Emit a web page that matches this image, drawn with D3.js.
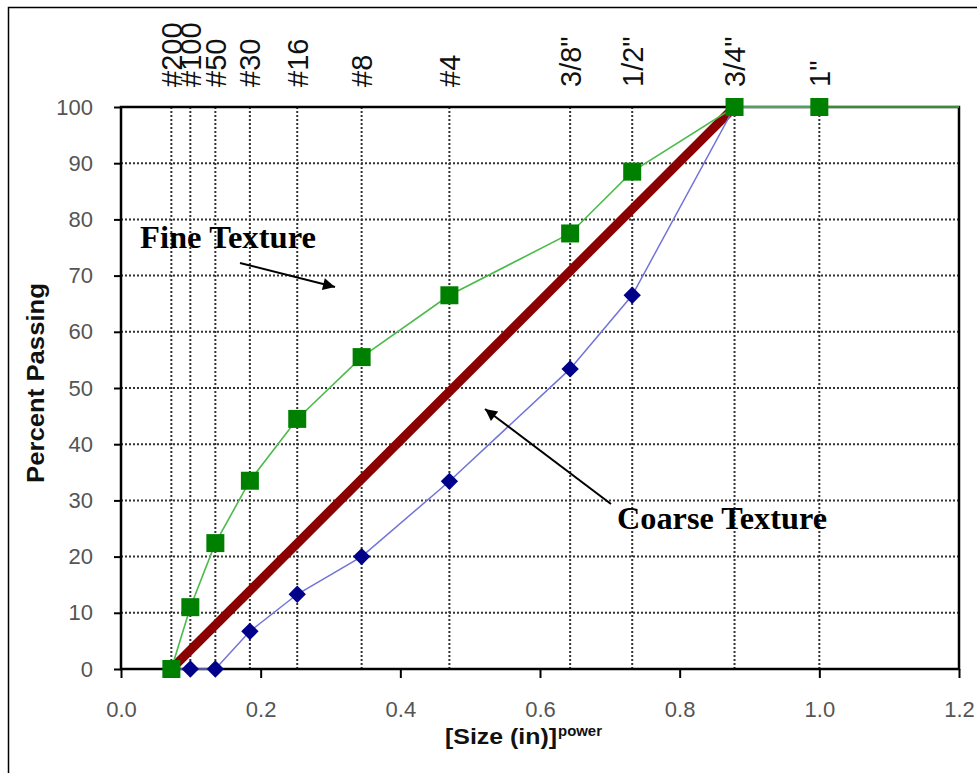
<!DOCTYPE html>
<html><head><meta charset="utf-8">
<script src="https://cdn.jsdelivr.net/npm/d3@7"></script>
<style>
html,body{margin:0;padding:0;background:#fff;}
svg{display:block;}
</style></head>
<body>
<svg id="chart" width="977" height="773"></svg>
<script>
// ---- data ----
const power = 0.45;
const sieveLabels = ["#200", "#100", "#50", "#30", "#16", "#8", "#4", "3/8\"", "1/2\"", "3/4\"", "1\""];
// sieve openings in inches (last one, 1-1/2", lies on the right edge)
const sieveSizes = [0.0029, 0.0059, 0.0117, 0.0234, 0.0469, 0.0937, 0.187, 0.375, 0.5, 0.75, 1.0, 1.5];
const finePassing   = [0, 11, 22.4, 33.5, 44.5, 55.5, 66.5, 77.5, 88.5, 100, 100, 100];
const coarsePassing = [0, 0, 0, 6.7, 13.3, 20, 33.4, 53.4, 66.5, 100, 100];
const maxDensitySizes = [0.0029, 0.75];
const maxDensityPassing = [0, 100];
const xTicks = [0, 0.2, 0.4, 0.6, 0.8, 1.0, 1.2];
const yTicks = [0, 10, 20, 30, 40, 50, 60, 70, 80, 90, 100];

// ---- layout ----
const svg = d3.select("#chart");
const x = d3.scaleLinear().domain([0, 1.2]).range([121, 959]);
const y = d3.scaleLinear().domain([0, 100]).range([669, 107]);
const px = s => x(Math.pow(s, power));
const sans = "Liberation Sans, Arial, sans-serif";
const serif = "Liberation Serif, Times New Roman, serif";

// outer frame
svg.append("rect").attr("x", 8.5).attr("y", 7.5).attr("width", 1000).attr("height", 1000)
  .attr("fill", "#fff").attr("stroke", "#000").attr("stroke-width", 1.5);

const defs = svg.append("defs");
defs.append("clipPath").attr("id", "plotclip")
  .append("rect").attr("x", x(0)).attr("y", y(100) - 12).attr("width", x(1.2) - x(0)).attr("height", y(0) - y(100) + 24);

// grid
const grid = svg.append("g");
grid.selectAll("line.v").data(sieveSizes.filter(s => Math.pow(s, power) < 1.2)).join("line")
  .attr("x1", d => px(d)).attr("x2", d => px(d)).attr("y1", y(0)).attr("y2", y(100))
  .attr("stroke", "#333").attr("stroke-width", 2).attr("stroke-dasharray", "2,2");
grid.selectAll("line.h").data(yTicks.filter(t => t > 0 && t < 100)).join("line")
  .attr("x1", x(0)).attr("x2", x(1.2)).attr("y1", d => y(d)).attr("y2", d => y(d))
  .attr("stroke", "#333").attr("stroke-width", 2).attr("stroke-dasharray", "2,2");

// axes
const xAxis = svg.append("g").attr("transform", `translate(0,${y(0)})`)
  .call(d3.axisBottom(x).tickValues(xTicks).tickFormat(d3.format(".1f")).tickSize(9).tickPadding(23));
const yAxis = svg.append("g").attr("transform", `translate(${x(0)},0)`)
  .call(d3.axisLeft(y).tickValues(yTicks).tickSize(7).tickPadding(21));
[xAxis, yAxis].forEach(a => {
  a.select(".domain").remove();
  a.selectAll(".tick line").attr("stroke", "#000").attr("stroke-width", 2);
  a.selectAll(".tick text").attr("fill", "#555").attr("font-family", sans).attr("font-size", 22);
});

// plot border
svg.append("rect").attr("x", x(0)).attr("y", y(100)).attr("width", x(1.2) - x(0)).attr("height", y(0) - y(100))
  .attr("fill", "none").attr("stroke", "#000").attr("stroke-width", 2.5);

// series
const plot = svg.append("g").attr("clip-path", "url(#plotclip)");
const line = d3.line().x(d => px(d[0])).y(d => y(d[1]));

plot.append("path").datum(maxDensitySizes.map((s, i) => [s, maxDensityPassing[i]]))
  .attr("d", line).attr("fill", "none").attr("stroke", "#8b0000").attr("stroke-width", 9);

const coarse = coarsePassing.map((v, i) => [sieveSizes[i], v]);
plot.append("path").datum(coarse).attr("d", line).attr("fill", "none")
  .attr("stroke", "#7373d9").attr("stroke-width", 1.5);
plot.selectAll("path.dia").data(coarse.filter(d => Math.pow(d[0], power) < 1.2)).join("path")
  .attr("d", d3.symbol(d3.symbolSquare, 150))
  .attr("transform", d => `translate(${px(d[0])},${y(d[1])}) rotate(45)`)
  .attr("fill", "#00008b");

const fine = finePassing.map((v, i) => [sieveSizes[i], v]);
plot.append("path").datum(fine).attr("d", line).attr("fill", "none")
  .attr("stroke", "#4cbb4c").attr("stroke-width", 1.6);
plot.selectAll("rect.sq").data(fine.filter(d => Math.pow(d[0], power) < 1.2)).join("rect")
  .attr("x", d => px(d[0]) - 9).attr("y", d => y(d[1]) - 9)
  .attr("width", 18).attr("height", 18).attr("fill", "#008000");

// top sieve labels
svg.append("g").selectAll("text").data(sieveLabels).join("text")
  .attr("transform", (d, i) => `translate(${px(sieveSizes[i])},87) rotate(-90)`)
  .attr("dy", "0.36em")
  .attr("font-family", sans).attr("font-size", 29)
  .attr("fill", "#111").text(d => d);

// axis titles
svg.append("text").attr("transform", "translate(44,383) rotate(-90)").attr("text-anchor", "middle")
  .attr("font-family", sans).attr("font-size", 23).attr("font-weight", "bold")
  .attr("textLength", 200).attr("lengthAdjust", "spacingAndGlyphs")
  .attr("fill", "#111").text("Percent Passing");
svg.append("text").attr("x", 445).attr("y", 744)
  .attr("font-family", sans).attr("font-weight", "bold").attr("fill", "#111")
  .attr("font-size", 22).attr("textLength", 112).attr("lengthAdjust", "spacingAndGlyphs").text("[Size (in)]");
svg.append("text").attr("x", 558).attr("y", 736)
  .attr("font-family", sans).attr("font-weight", "bold").attr("fill", "#111")
  .attr("font-size", 14).attr("textLength", 44).attr("lengthAdjust", "spacingAndGlyphs").text("power");

// annotations
defs.append("marker").attr("id", "arrow").attr("viewBox", "0 0 10 10").attr("refX", 10).attr("refY", 5)
  .attr("markerWidth", 7).attr("markerHeight", 6).attr("orient", "auto").attr("markerUnits", "strokeWidth")
  .append("path").attr("d", "M0,0 L10,5 L0,10 z").attr("fill", "#000");

svg.append("text").attr("x", 140).attr("y", 248)
  .attr("font-family", serif).attr("font-weight", "bold").attr("font-size", 31)
  .attr("textLength", 176).attr("lengthAdjust", "spacingAndGlyphs")
  .attr("fill", "#000").text("Fine Texture");
svg.append("line").attr("x1", 240).attr("y1", 263).attr("x2", 335).attr("y2", 287)
  .attr("stroke", "#000").attr("stroke-width", 2).attr("marker-end", "url(#arrow)");

svg.append("text").attr("x", 617).attr("y", 529)
  .attr("font-family", serif).attr("font-weight", "bold").attr("font-size", 31)
  .attr("textLength", 210).attr("lengthAdjust", "spacingAndGlyphs")
  .attr("fill", "#000").text("Coarse Texture");
svg.append("line").attr("x1", 611).attr("y1", 504).attr("x2", 485).attr("y2", 409)
  .attr("stroke", "#000").attr("stroke-width", 2).attr("marker-end", "url(#arrow)");
</script>
</body></html>
